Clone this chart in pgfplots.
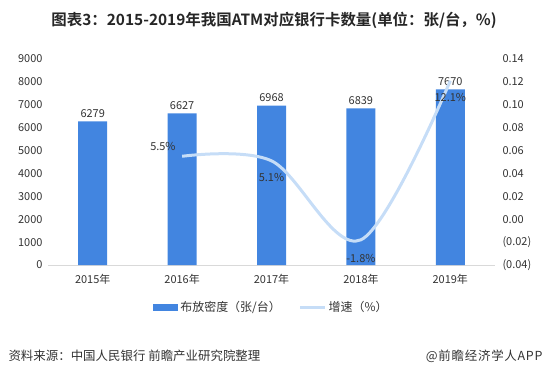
\documentclass[border=0pt]{standalone}
\usepackage{pgfplots}
\pgfplotsset{compat=1.18}
\usepackage{fontspec}
\setmainfont{Noto Sans CJK SC}[BoldFont={Noto Sans CJK SC Bold}]
\definecolor{barblue}{HTML}{4285E0}
\definecolor{lineblue}{HTML}{C6DDF7}
\definecolor{axgray}{HTML}{D9D9D9}
\definecolor{txt}{HTML}{333333}
\begin{document}
\begin{tikzpicture}[x=1bp,y=1bp]
\useasboundingbox (0,0) rectangle (550,379);
\node[font=\fontsize{15.5}{18}\selectfont\bfseries, text=black!85] at (274,359) {图表3：2015-2019年我国ATM对应银行卡数量(单位：张/台，\%)};
\begin{axis}[
  at={(48bp,114bp)}, anchor=south west,
  scale only axis, width=447bp, height=206bp,
  xmin=-0.5, xmax=4.5, ymin=0, ymax=9000,
  xtick={0,1,2,3,4},
  xticklabels={2015年,2016年,2017年,2018年,2019年},
  ytick={0,1000,2000,3000,4000,5000,6000,7000,8000,9000},
  axis y line*=left, axis x line*=bottom,
  y axis line style={draw=none},
  x axis line style={axgray, line width=0.8bp},
  major tick length=0,
  /pgf/number format/.cd, assume math mode=true, 1000 sep={},
  /pgfplots/.cd,
  tick label style={font=\fontsize{11}{13}\selectfont, text=txt},
  yticklabel style={xshift=-2bp},
  xticklabel style={yshift=-6bp},
  legend style={at={(0.5,-0.204)}, anchor=center, draw=none, fill=none,
    legend columns=2, font=\fontsize{12}{14}\selectfont, text=txt,
    /tikz/every even column/.append style={column sep=16bp}},
]
\addplot[ybar, bar width=29bp, fill=barblue, draw=none,
  nodes near coords, nodes near coords style={font=\fontsize{11}{13}\selectfont, text=txt},
  legend image code/.code={\fill[barblue] (0bp,-3.5bp) rectangle (25bp,3.5bp);}]
  coordinates {(0,6279) (1,6627) (2,6968) (3,6839) (4,7670)};
\addlegendentry{布放密度（张/台）}
\addlegendimage{legend image code/.code={\draw[lineblue, line width=3bp] (0bp,0bp) -- (25bp,0bp);}}
\addlegendentry{增速（\%）}
\end{axis}
\begin{axis}[
  at={(48bp,114bp)}, anchor=south west,
  scale only axis, width=447bp, height=206bp,
  xmin=-0.5, xmax=4.5, ymin=-0.04, ymax=0.14,
  axis y line*=right, axis x line=none,
  y axis line style={draw=none},
  major tick length=0,
  ytick={-0.04,-0.02,0,0.02,0.04,0.06,0.08,0.1,0.12,0.14},
  yticklabels={(0.04),(0.02),0.00,0.02,0.04,0.06,0.08,0.10,0.12,0.14},
  tick label style={font=\fontsize{11}{13}\selectfont, text=txt},
  yticklabel style={xshift=4bp},
]
\addplot[lineblue, line width=3bp, smooth, tension=0.55] coordinates {(1,0.055) (2,0.051) (3,-0.018) (4,0.121)};
\addplot[draw=none, mark=none, nodes near coords={5.5\%},
  nodes near coords style={anchor=south east, xshift=-3bp, yshift=2bp, font=\fontsize{11}{13}\selectfont, text=txt}]
  coordinates {(1,0.055)};
\addplot[draw=none, mark=none, nodes near coords={5.1\%},
  nodes near coords style={anchor=north, yshift=-9bp, font=\fontsize{11}{13}\selectfont, text=txt}]
  coordinates {(2,0.051)};
\addplot[draw=none, mark=none, nodes near coords={-1.8\%},
  nodes near coords style={anchor=north, yshift=-11bp, font=\fontsize{11}{13}\selectfont, text=txt}]
  coordinates {(3,-0.018)};
\addplot[draw=none, mark=none, nodes near coords={12.1\%},
  nodes near coords style={anchor=north, yshift=-9bp, font=\fontsize{11}{13}\selectfont, text=txt}]
  coordinates {(4,0.121)};
\end{axis}
\node[anchor=west, font=\fontsize{12.5}{15}\selectfont, text=txt] at (5,23) {资料来源：中国人民银行 前瞻产业研究院整理};
\node[anchor=east, font=\fontsize{12.5}{15}\selectfont, text=txt] at (546,23) {\addfontfeatures{LetterSpace=6}@前瞻经济学人APP};
\end{tikzpicture}
\end{document}
